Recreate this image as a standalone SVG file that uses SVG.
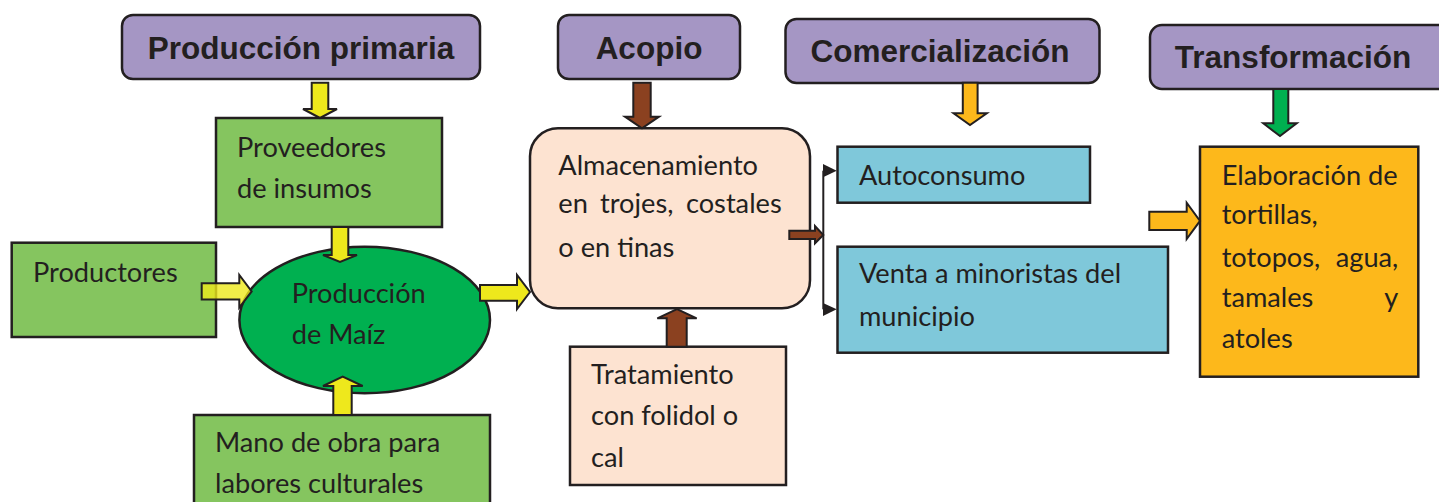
<svg xmlns="http://www.w3.org/2000/svg" width="1439" height="502" viewBox="0 0 1439 502">
<style>
.hdr{fill:#A596C4;stroke:#231F20;stroke-width:2.5}
.ht{font-family:"Liberation Sans",Arial,sans-serif;font-weight:bold;font-size:31.5px;fill:#231F20;text-anchor:middle}
.bt{font-family:Lato,"Open Sans",sans-serif;font-size:27.2px;fill:#231F20}
.grn{fill:#85C55F;stroke:#231F20;stroke-width:2.5}
.peach{fill:#FDE3D1;stroke:#231F20;stroke-width:2.5}
.blue{fill:#7FC8DA;stroke:#231F20;stroke-width:2.5}
.org{fill:#FDB81B;stroke:#231F20;stroke-width:2.5}
.ay{fill:#EEE81C;stroke:#231F20;stroke-width:2;stroke-linejoin:miter}
.ab{fill:#8B4120;stroke:#231F20;stroke-width:2}
.ao{fill:#FDB81B;stroke:#231F20;stroke-width:2}
.ag{fill:#00B050;stroke:#231F20;stroke-width:2}
.tri{fill:#231F20}
</style>
<g id="produccion-primaria">
<rect class="hdr" x="122" y="15" width="358" height="64" rx="11"/>
<text class="ht" x="301" y="59">Producción primaria</text>
</g>
<g id="acopio">
<rect class="hdr" x="558" y="15" width="182" height="64" rx="11"/>
<text class="ht" x="649" y="58.5">Acopio</text>
</g>
<g id="comercializacion">
<rect class="hdr" x="785.5" y="19" width="314" height="64" rx="11"/>
<text class="ht" x="940" y="62">Comercialización</text>
</g>
<g id="transformacion">
<rect class="hdr" x="1150" y="25" width="310" height="64" rx="12"/>
<text class="ht" x="1293" y="67.5">Transformación</text>
</g>
<g id="proveedores">
<rect class="grn" x="216" y="118" width="226" height="109"/>
<text class="bt" x="237" y="157">Proveedores</text>
<text class="bt" x="237" y="198">de insumos</text>
</g>
<g id="productores">
<rect class="grn" x="11.7" y="242.7" width="204.3" height="94.3"/>
<text class="bt" x="33" y="281.7">Productores</text>
</g>
<g id="produccion-maiz">
<ellipse cx="364.7" cy="320" rx="125.3" ry="73.3" fill="#00B050" stroke="#231F20" stroke-width="2.5"/>
<text class="bt" x="291.7" y="302.7">Producción</text>
<text class="bt" x="291.7" y="344">de Maíz</text>
</g>
<g id="mano-de-obra">
<rect class="grn" x="194" y="415" width="296" height="100"/>
<text class="bt" x="215" y="451.7">Mano de obra para</text>
<text class="bt" x="215" y="493.3">labores culturales</text>
</g>
<g id="almacenamiento">
<rect class="peach" x="530" y="128.3" width="280" height="180" rx="28"/>
<text class="bt" x="558.3" y="175">Almacenamiento</text>
<text class="bt" y="213.3"><tspan x="558.3">en</tspan><tspan x="600">trojes,</tspan><tspan x="781.7" text-anchor="end">costales</tspan></text>
<text class="bt" x="558.3" y="256.7">o en tinas</text>
</g>
<g id="tratamiento">
<rect class="peach" x="570" y="346.7" width="216" height="138.3"/>
<text class="bt" x="591" y="384">Tratamiento</text>
<text class="bt" x="591" y="425">con folidol o</text>
<text class="bt" x="591" y="466.7">cal</text>
</g>
<g id="autoconsumo">
<rect class="blue" x="837.5" y="146.7" width="252.5" height="56"/>
<text class="bt" x="859" y="185">Autoconsumo</text>
</g>
<g id="venta">
<rect class="blue" x="837.5" y="246.7" width="330.5" height="106"/>
<text class="bt" x="859" y="283.3">Venta a minoristas del</text>
<text class="bt" x="859" y="326">municipio</text>
</g>
<g id="elaboracion">
<rect class="org" x="1200" y="146.7" width="218.3" height="230"/>
<text class="bt" x="1221.7" y="185">Elaboración de</text>
<text class="bt" x="1221.7" y="224">tortillas,</text>
<text class="bt" y="266.5"><tspan x="1221.7">totopos,</tspan><tspan x="1398.3" text-anchor="end">agua,</tspan></text>
<text class="bt" y="307"><tspan x="1221.7">tamales</tspan><tspan x="1398.3" text-anchor="end">y</tspan></text>
<text class="bt" x="1221.7" y="348.3">atoles</text>
</g>
<g id="connectors">
<polygon class="ay" points="311.7,82.7 328.3,82.7 328.3,109 337,109 320,118 303,109 311.7,109"/>
<polygon class="ay" points="331.7,227 348.3,227 348.3,255 357,255 340,262 323,255 331.7,255"/>
<polygon class="ay" fill-opacity="0.8" points="201.7,283.3 239.3,283.3 239.3,275 251.7,291.4 239.3,307.5 239.3,299.5 201.7,299.5"/>
<polygon class="ay" points="480,285 517,285 517,275 530,292 517,309 517,300.7 480,300.7"/>
<polygon class="ay" points="333.3,415 351.7,415 351.7,386 362.7,386 342.7,376.7 323,386 333.3,386"/>
<polygon class="ab" points="633.3,82.7 650.7,82.7 650.7,116.7 659,116.7 642,128.3 625,116.7 633.3,116.7"/>
<polygon class="ab" points="666.7,346.7 686.7,346.7 686.7,318.3 696.7,318.3 677,309 657.3,318.3 666.7,318.3"/>
<polygon class="ab" points="789.3,230.7 815,230.7 815,226 823.3,235 815,243.3 815,239 789.3,239"/>
<line x1="823.3" y1="170.7" x2="823.3" y2="309.3" stroke="#231F20" stroke-width="2"/>
<polygon class="tri" points="823,164 836.7,170.7 823,177.3"/>
<polygon class="tri" points="823,303 836.7,309.3 823,316"/>
<polygon class="ao" points="962.8,82.7 977.6,82.7 977.6,113.3 986.8,113.3 970,125 953.6,113.3 962.8,113.3"/>
<polygon class="ag" points="1273.3,89 1288.3,89 1288.3,123.3 1296.7,123.3 1280,136 1263.3,123.3 1273.3,123.3"/>
<polygon class="ao" points="1149.3,211.7 1186.7,211.7 1186.7,202.7 1200,220.9 1186.7,239 1186.7,230 1149.3,230"/>
</g>
</svg>
